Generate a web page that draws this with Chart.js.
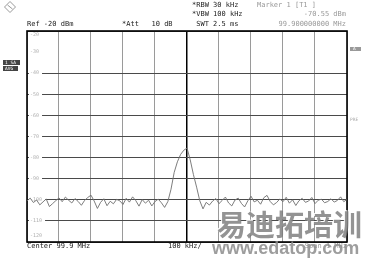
<!DOCTYPE html>
<html>
<head>
<meta charset="utf-8">
<script src="https://cdn.jsdelivr.net/npm/chart.js@4.4.0/dist/chart.umd.min.js"></script>
<style>
  body { margin: 0; background: #fff; }
  #wrap { width: 368px; height: 258px; }
</style>
</head>
<body>
<div id="wrap"><canvas id="spectrum" width="368" height="258"></canvas></div>
<script>
// sweep setup
var startMHz = 99.4;
var stopMHz = 100.4;
var stepMHz = 0.01;
var centerMHz = 99.9;

// grid / tick values
var gridMHz = [99.4, 99.5, 99.6, 99.7, 99.8, 99.9, 100.0, 100.1, 100.2, 100.3, 100.4];
var yTicks = [-20, -30, -40, -50, -60, -70, -80, -90, -100, -110, -120];

// trace, dBm (101 sweep points)
var levelDbm = [
  -100.5, -99.2, -101.3, -100.1, -102.4, -101.0, -99.6, -103.2, -101.8, -100.4,
  -99.1, -100.9, -98.7, -100.2, -101.5, -99.4, -100.8, -102.6, -100.3, -98.9,
  -97.8, -100.6, -104.1, -101.2, -99.5, -102.8, -100.7, -101.9, -99.8, -100.5,
  -102.2, -99.3, -101.1, -98.6, -100.4, -103.0, -99.9, -101.6, -100.2, -102.9,
  -100.8, -99.7, -101.4, -103.6, -100.9,
  -95.0, -87.0, -82.0, -78.5, -76.5, -75.5, -81.0, -88.0, -94.0, -100.5,
  -104.3, -101.2, -102.5, -100.6, -99.4, -101.8, -100.3, -98.7, -101.5, -102.9,
  -100.1, -99.2, -101.7, -103.4, -100.5, -98.3, -101.0, -100.2, -102.1, -99.0,
  -97.9, -100.8, -102.4, -101.3, -99.6, -100.9, -98.8, -101.6, -100.0, -102.7,
  -100.4, -99.3, -101.2, -100.6, -98.9, -101.8, -100.2, -99.7, -101.4, -100.8,
  -99.5, -101.1, -100.3, -98.6, -100.9, -99.8
];
var freqMHz = levelDbm.map(function (_, i) { return +(startMHz + i * stepMHz).toFixed(3); });

var mono = '"DejaVu Sans Mono", monospace';

// 画框、刻度文字和屏幕上的文字
var screenText = {
  id: 'screenText',
  beforeDatasetsDraw: function (chart) {
    var c = chart.ctx, a = chart.chartArea, y = chart.scales.y;
    c.save();
    // y labels inside the grid
    c.font = '5px ' + mono;
    c.textAlign = 'left';
    c.textBaseline = 'middle';
    yTicks.forEach(function (v) {
      var py = Math.min(Math.max(y.getPixelForValue(v), a.top + 3.5), a.bottom - 6);
      var t = String(v);
      var w = c.measureText(t).width;
      c.fillStyle = '#fff';
      c.fillRect(a.left + 2, py - 2.5, w + 4, 5);
      c.fillStyle = '#b0b0b0';
      c.fillText(t, a.left + 3, py);
    });
    // frame
    c.strokeStyle = '#000';
    c.lineWidth = 1.6;
    c.strokeRect(a.left, a.top, a.right - a.left, a.bottom - a.top);
    c.restore();
  },
  afterDraw: function (chart) {
    var c = chart.ctx;
    c.save();
    c.textBaseline = 'middle';
    c.font = '7px ' + mono;
    c.fillStyle = '#222';
    c.textAlign = 'left';
    c.fillText('Ref -20 dBm', 27, 24);
    c.fillText('*Att   10 dB', 122, 24);
    c.fillText('*RBW 30 kHz', 192, 5);
    c.fillText('*VBW 100 kHz', 192, 14);
    c.fillText(' SWT 2.5 ms', 192, 24);
    c.fillText('Center 99.9 MHz', 27, 246);
    c.fillText('100 kHz/', 168, 246);
    c.fillStyle = '#999';
    c.fillText('Marker 1 [T1 ]', 257, 5);
    c.textAlign = 'right';
    c.fillText('-70.55 dBm', 346, 14);
    c.fillText('99.900000000 MHz', 346, 24);
    c.fillText('Span 1 MHz', 347, 246);

    // side labels
    c.textAlign = 'left';
    c.fillStyle = '#444';
    c.fillRect(3, 60, 17, 5);
    c.fillRect(3, 66, 15, 5);
    c.fillStyle = '#fff';
    c.font = '4.5px ' + mono;
    c.fillText('1 SA', 5, 62.7);
    c.fillText('AVG', 5, 68.7);
    c.fillStyle = '#999';
    c.fillRect(350, 47, 11, 4);
    c.fillStyle = '#fff';
    c.fillText('A', 353, 49.2);
    c.fillStyle = '#aaa';
    c.fillText('PRE', 350, 120);

    // logo
    c.strokeStyle = '#999';
    c.lineWidth = 1;
    c.beginPath();
    c.moveTo(10, 1.5); c.lineTo(15.5, 7); c.lineTo(10, 12.5); c.lineTo(4.5, 7); c.closePath();
    c.stroke();
    c.beginPath();
    c.moveTo(7.5, 5); c.lineTo(12.5, 9);
    c.stroke();

    // watermark
    c.font = 'bold 29px "Noto Sans CJK SC"';
    c.fillStyle = 'rgba(255,255,255,0.9)';
    c.fillText('易迪拓培训', 216, 224);
    c.fillStyle = 'rgba(120,120,120,0.8)';
    c.fillText('易迪拓培训', 217, 225);
    c.font = 'bold 18px "Liberation Sans"';
    c.fillStyle = 'rgba(140,140,140,0.85)';
    c.fillText('www.edatop.com', 212, 249);
    c.restore();
  }
};

var ctx = document.getElementById('spectrum').getContext('2d');
var chart = new Chart(ctx, {
  type: 'line',
  data: {
    datasets: [{
      data: freqMHz.map(function (f, i) { return { x: f, y: levelDbm[i] }; }),
      borderColor: '#6e6e6e',
      borderWidth: 0.9,
      pointRadius: 0,
      tension: 0
    }]
  },
  options: {
    responsive: false,
    animation: false,
    events: [],
    layout: { padding: { left: 27, top: 31, right: 21, bottom: 16 } },
    plugins: { legend: { display: false }, tooltip: { enabled: false } },
    scales: {
      x: {
        type: 'linear',
        min: startMHz,
        max: stopMHz,
        afterBuildTicks: function (s) { s.ticks = gridMHz.map(function (v) { return { value: v }; }); },
        afterFit: function (s) { s.height = 0; },
        ticks: { display: false },
        border: { display: false },
        grid: {
          drawTicks: false,
          color: function (c) { return c.tick && Math.abs(c.tick.value - centerMHz) < 1e-6 ? '#000' : '#9a9a9a'; },
          lineWidth: function (c) { return c.tick && Math.abs(c.tick.value - centerMHz) < 1e-6 ? 1.5 : 1; }
        }
      },
      y: {
        min: -120,
        max: -20,
        afterBuildTicks: function (s) { s.ticks = yTicks.map(function (v) { return { value: v }; }); },
        afterFit: function (s) { s.width = 0; },
        ticks: { display: false },
        border: { display: false },
        grid: {
          drawTicks: false,
          color: function (c) { return c.tick && c.tick.value === -30 ? 'rgba(0,0,0,0)' : '#4a4a4a'; }
        }
      }
    }
  },
  plugins: [screenText]
});
</script>
</body>
</html>
